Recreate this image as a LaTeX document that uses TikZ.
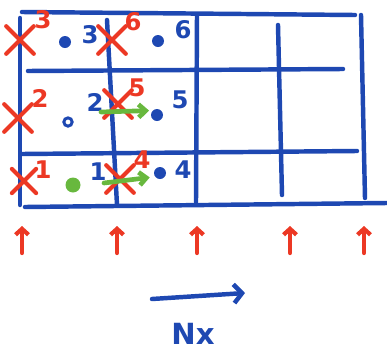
\documentclass[tikz,border=0pt]{standalone}
\usepackage{fontspec}
\setmainfont{DejaVu Sans}
\definecolor{penblue}{RGB}{30, 72, 178}
\definecolor{penred}{RGB}{236, 56, 36}
\definecolor{pengreen}{RGB}{104, 184, 62}
\usetikzlibrary{shapes.misc, arrows.meta}

\begin{document}
\begin{tikzpicture}[x=0.03cm, y=-0.03cm,
  gridline/.style={penblue, line width=3.8pt, line cap=round},
  crossmark/.style={cross out, draw=penred, line width=3.6pt, line cap=round, minimum size=0.7cm, inner sep=0pt},
  redlbl/.style={text=penred, font=\bfseries\huge, inner sep=1pt},
  bluelbl/.style={text=penblue, font=\bfseries\huge, inner sep=1pt},
  celldot/.style={circle, fill=penblue, minimum size=0.36cm, inner sep=0pt},
  shiftarrow/.style={-{Straight Barb[length=6pt, width=11pt]}, pengreen, line width=4pt, line cap=round},
  upflag/.style={-{Straight Barb[length=5pt, width=11pt]}, penred, line width=3.6pt, line cap=round}]
  \useasboundingbox (0,0) rectangle (387,357);

  % Grid
  \draw[gridline] (22,12) -- (355,15);
  \draw[gridline] (28,71) -- (343,69);
  \draw[gridline] (22,154) -- (357,151);
  \draw[gridline] (25,207) -- (387,203);
  \draw[gridline] (20,18) -- (20,205);
  \draw[gridline] (107,20) -- (117,205);
  \draw[gridline] (197,15) -- (196,202);
  \draw[gridline] (278,25) -- (282,195);
  \draw[gridline] (361,15) -- (365,198);

  % Red crosses with their numbers
  \node[crossmark] (x3) at (20,40) {};
  \node[redlbl] (x3n) at (43,20) {3};
  \node[crossmark] (x6) at (112,40) {};
  \node[redlbl] (x6n) at (133,22) {6};
  \node[crossmark] (x2) at (18,118) {};
  \node[redlbl] (x2n) at (40,98) {2};
  \node[crossmark] (x5) at (118,104) {};
  \node[redlbl] (x5n) at (137,88) {5};
  \node[crossmark, minimum size=0.6cm] (x1) at (24,181) {};
  \node[redlbl] (x1n) at (43,170) {1};
  \node[crossmark] (x4) at (120,179) {};
  \node[redlbl] (x4n) at (142,160) {4};

  % Cell centres
  \node[celldot] (c3) at (65,42) {};
  \node[bluelbl] (c3n) at (90,35) {3};
  \node[celldot] (c6) at (158,41) {};
  \node[bluelbl] (c6n) at (183,30) {6};
  \node[circle, draw=penblue, line width=2.5pt, minimum size=0.25cm, inner sep=0pt] (c2) at (68,122) {};
  \node[bluelbl] (c2n) at (95,102) {2};
  \node[celldot] (c5) at (157,115) {};
  \node[bluelbl] (c5n) at (180,100) {5};
  \node[celldot, fill=pengreen, minimum size=0.45cm] (c1) at (73,185) {};
  \node[bluelbl] (c1n) at (98,172) {1};
  \node[celldot] (c4) at (160,173) {};
  \node[bluelbl] (c4n) at (183,170) {4};

  % Shifts
  \coordinate (s2) at (101,112);
  \coordinate (s1) at (104,183);
  \draw[shiftarrow] (s2) -- ([xshift=-3pt]c5.north west);
  \draw[shiftarrow] (s1) -- ([xshift=-5pt]c4.south west);

  % Bottom markers
  \foreach \px in {22, 117, 197, 290, 364} {
    \coordinate (b\px) at (\px,253);
    \coordinate (t\px) at (\px,226);
    \draw[upflag] (b\px) -- (t\px);
  }

  % Direction
  \coordinate (dirA) at (152,299);
  \coordinate (dirB) at (245,293);
  \draw[-{Straight Barb[length=7pt, width=16pt]}, penblue, line width=3.8pt, line cap=round] (dirA) -- (dirB);
  \node[bluelbl, font=\bfseries\Huge] (nx) at (193,334) {Nx};
\end{tikzpicture}
\end{document}
